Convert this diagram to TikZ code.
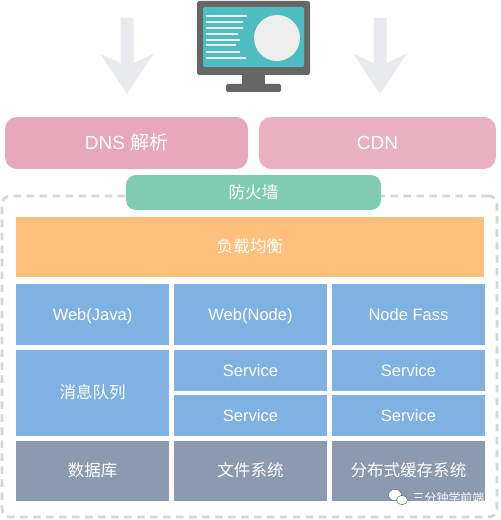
\documentclass[tikz,border=0pt]{standalone}
\usepackage{fontspec}
\setmainfont{Liberation Sans}
\newfontfamily\cjk{Noto Sans CJK SC}
\usetikzlibrary{positioning,backgrounds}
\definecolor{dsPink}{HTML}{E6A8BA}
\definecolor{dsPinkLt}{HTML}{E9B1C1}
\definecolor{dsGreen}{HTML}{7FCCB3}
\definecolor{dsOrange}{HTML}{FFC07B}
\definecolor{dsBlue}{HTML}{7FB1E3}
\definecolor{dsSlate}{HTML}{8C9AB0}
\definecolor{dsDash}{HTML}{D6D6D6}
\definecolor{dsArrow}{HTML}{E9EAEE}
\definecolor{dsBezel}{HTML}{666666}
\definecolor{dsScreen}{HTML}{4DBDC1}
\definecolor{dsDisc}{HTML}{EEEEEE}
\tikzset{
  % Rounded top boxes
  topbox/.style={rectangle,rounded corners=0.24cm,inner sep=0pt,outer sep=0pt,
    minimum height=1.04cm,font=\fontsize{10.8}{13}\selectfont,text=white,
    text height=7.7pt,text depth=0pt},
  % Square cells in the dashed area
  cellbox/.style={rectangle,inner sep=0pt,outer sep=0pt,
    minimum width=3.06cm,minimum height=1.22cm,
    font=\fontsize{9.4}{12}\selectfont,text=white,
    text height=6.7pt,text depth=0pt},
  webcell/.style={cellbox,fill=dsBlue},
  svccell/.style={cellbox,fill=dsBlue,minimum height=0.82cm},
  storecell/.style={cellbox,fill=dsSlate,minimum height=1.2cm},
}
\begin{document}
\begin{tikzpicture}[x=0.02cm,y=-0.02cm]
  \useasboundingbox[fill=white] (0,0) rectangle (500,520);

  % Monitor
  \fill[dsBezel,rounded corners=0.05cm] (197,1) rectangle (310,75);
  \fill[dsBezel] (242,74) rectangle (265,85);
  \fill[dsBezel,rounded corners=0.03cm] (226,84) rectangle (281,92);
  \fill[dsScreen,rounded corners=0.03cm] (203,7) rectangle (304,67);
  \fill[dsDisc] (277,38) circle (0.46cm);
  \foreach \ly/\lx in {16/247,22/243,28/243,34/238,40/240,45/236,52/240,58/246}
    \fill[dsDisc] (206,\ly-1) rectangle (\lx,\ly+1);

  % Big grey arrows
  \foreach \ax in {127,380}
    \fill[dsArrow] (\ax-6.5,18) -- (\ax+6.5,18) -- (\ax+6.5,63) -- (\ax+26.5,54)
      -- (\ax,94) -- (\ax-26.5,54) -- (\ax-6.5,63) -- cycle;

  % Dashed area
  \node[draw=dsDash,line width=0.055cm,dash pattern=on 0.15cm off 0.11cm,
    rectangle,rounded corners=0.16cm,inner sep=0pt,
    minimum width=9.9cm,minimum height=6.42cm] (area) at (249.5,356.5) {};

  % Top boxes
  \node[topbox,fill=dsPink,minimum width=4.86cm] (dns) at (126.5,143) {DNS {\cjk 解析}};
  \node[topbox,fill=dsPinkLt,minimum width=4.74cm,right=0.22cm of dns] (cdn) {CDN};
  \node[topbox,fill=dsGreen,rounded corners=0.2cm,minimum width=5.1cm,minimum height=0.7cm,
    font=\fontsize{9.4}{12}\cjk,text height=6.7pt] (wall) at (253.5,192.5) {防火墙};

  % Load balancer
  \node[cellbox,fill=dsOrange,minimum width=9.36cm,minimum height=1.2cm] (lb) at (250,247) {\cjk 负载均衡};

  % Web row
  \node[webcell,below=0.14cm of lb.south west,anchor=north west] (java) {Web(Java)};
  \node[webcell,right=0.1cm of java] (nodeweb) {Web(Node)};
  \node[webcell,right=0.1cm of nodeweb] (fass) {Node Fass};

  % Queue and services
  \node[webcell,minimum height=1.72cm,below=0.1cm of java] (queue) {\cjk 消息队列};
  \node[svccell,below=0.1cm of nodeweb] (svca) {Service};
  \node[svccell,below=0.08cm of svca] (svcb) {Service};
  \node[svccell,below=0.1cm of fass] (svcc) {Service};
  \node[svccell,below=0.08cm of svcc] (svcd) {Service};

  % Storage row
  \node[storecell,below=0.1cm of queue] (db) {\cjk 数据库};
  \node[storecell,right=0.1cm of db] (files) {\cjk 文件系统};
  \node[storecell,right=0.1cm of files] (cache) {\cjk 分布式缓存系统};

  % Watermark
  \filldraw[fill=white,draw=dsSlate!70!black,line width=0.3pt] (395,495) ellipse (0.13cm and 0.115cm);
  \filldraw[fill=white,draw=dsSlate!70!black,line width=0.3pt] (402,500) ellipse (0.11cm and 0.095cm);
  \node[inner sep=0pt,text=white,font=\fontsize{6.8}{8}\cjk] (mark) at (448.5,498) {三分钟学前端};
\end{tikzpicture}
\end{document}
